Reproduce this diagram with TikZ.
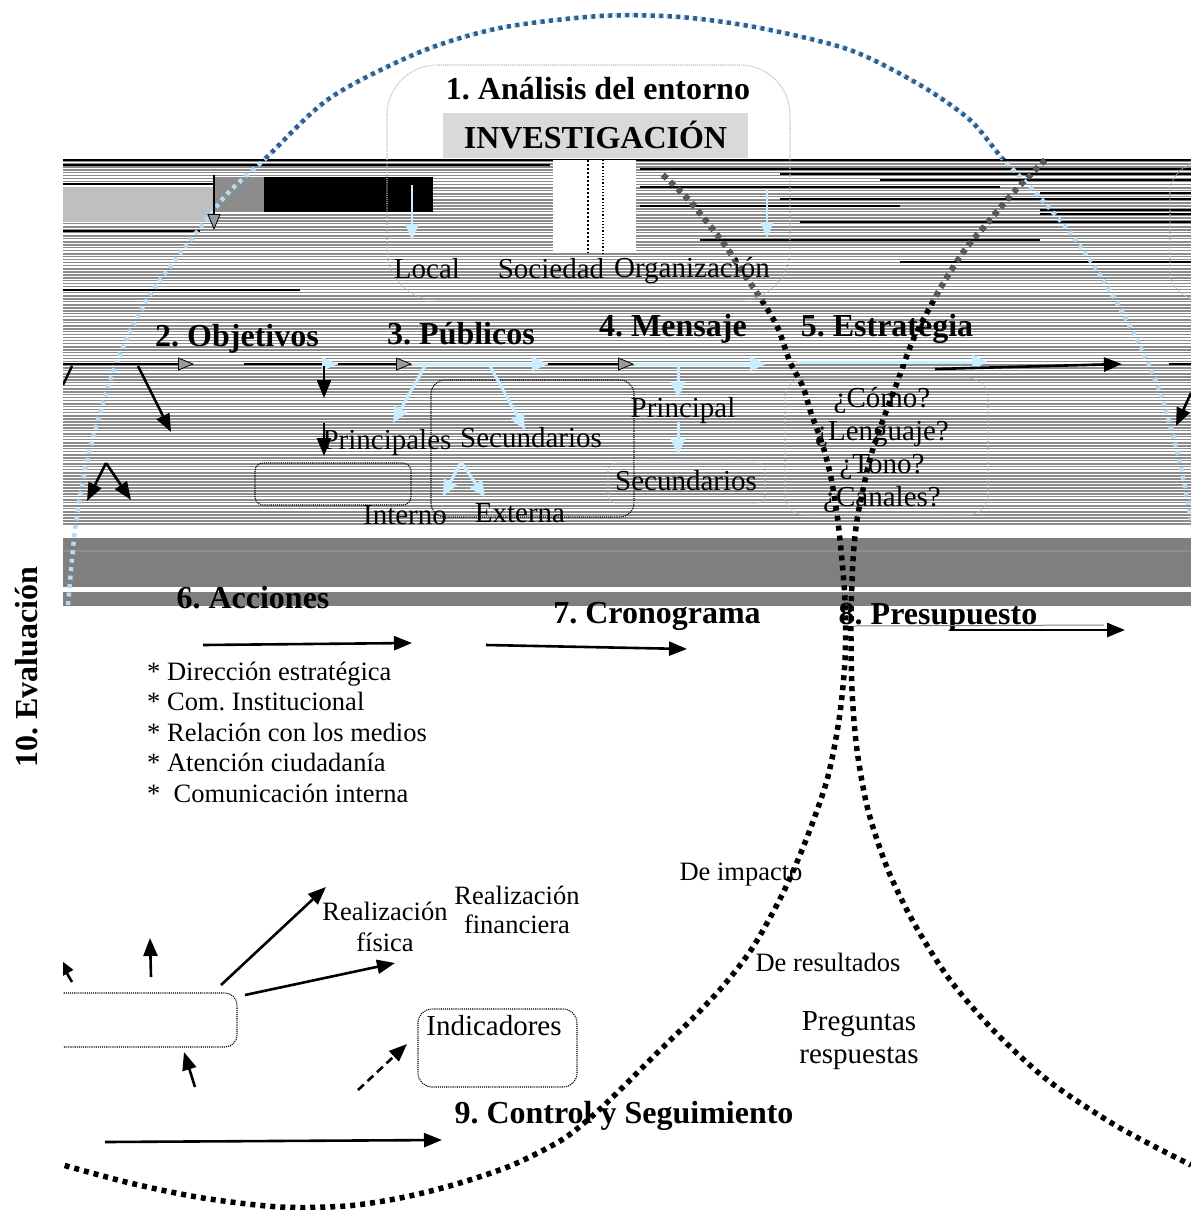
\documentclass[tikz,border=0pt]{standalone}
\usepackage{fontspec}
\setmainfont{Liberation Serif}
\usetikzlibrary{arrows.meta}
\frenchspacing

\begin{document}
\begin{tikzpicture}[x=1pt, y=-1pt,
    head/.style={inner sep=0pt, font=\bfseries\fontsize{32}{36}\selectfont},
    lbl/.style={inner sep=0pt, font=\fontsize{29}{33}\selectfont},
    note/.style={inner sep=0pt, align=center, font=\fontsize{26.5}{30.5}\selectfont},
    blackArrow/.style={line width=2.6pt, -{Triangle[length=18pt, width=14pt]}},
    lightArrow/.style={draw=skyArrow, line width=3pt, -{Triangle[length=16pt, width=14pt]}},
    grayTip/.style={line width=2.4pt, -{Triangle[length=16pt, width=13pt, fill=tipGray, line width=0.8pt]}},
    skyTip/.style={line width=2.4pt, -{Triangle[length=16pt, width=13pt, color=skyArrow]}},
    dotBox/.style={draw, line width=1.1pt, densely dotted, rounded corners=14pt},
    paleBox/.style={draw=paleLine, line width=1.1pt, densely dotted, rounded corners=14pt},
    blueDots/.style={line width=4.5pt, dash pattern=on 4pt off 4.5pt},
    blackDots/.style={line width=5.5pt, dash pattern=on 5pt off 5pt}]
    % Define colours
    \definecolor{outerBlue}{HTML}{2E5D8E}
    \definecolor{paleBlue}{HTML}{B4DCF5}
    \definecolor{skyArrow}{HTML}{C8EEFF}
    \definecolor{stripeGray}{HTML}{8C8C8C}
    \definecolor{bandGray}{HTML}{7F7F7F}
    \definecolor{lightBand}{HTML}{8E8E8E}
    \definecolor{boxGray}{HTML}{D9D9D9}
    \definecolor{tipGray}{HTML}{9A9A9A}
    \definecolor{paleLine}{HTML}{AFBDCD}
    \definecolor{lightBlock}{HTML}{BFBFBF}
    \definecolor{midBlock}{HTML}{8C8C8C}
    \definecolor{curveGray}{HTML}{5A5A5A}

    \useasboundingbox (0,0) rectangle (1191,1210);

    \begin{scope}
    \clip (63,0) rectangle (1191,1210);

    % Striped band behind the first rows
    \fill[stripeGray] (63,158) rectangle (1191,525);
    \pgfmathsetseed{7}
    \foreach \y in {159,162,...,524}{
        \pgfmathsetmacro{\lw}{0.3+1.4*rnd}
        \draw[white, line width=\lw pt] (63,\y) -- (1191,\y);
    }
    \foreach \y/\a/\b in {160/63/1191, 165/63/550, 169/640/1191, 174/780/1191,
        180/880/1191, 184/63/214, 187/640/1000, 193/1040/1191, 199/780/1191,
        206/640/900, 210/1040/1191, 214/1040/1191, 222/800/1191, 231/63/200,
        240/700/1040, 262/900/1191, 290/63/300}
        \draw[line width=1.4pt] (\a,\y) -- (\b,\y);
    \fill[lightBlock] (63,187) rectangle (214,222);
    \fill[midBlock] (214,177) rectangle (264,212);
    \fill (264,177) rectangle (433,212);
    \fill[white] (553,160) rectangle (636,253);
    \draw[dotted, line width=2pt] (588,160) -- (588,253);
    \draw[dotted, line width=1.2pt] (603,160) -- (603,253);

    % Solid band
    \fill[bandGray] (63,538) rectangle (1191,606);
    \draw[lightBand, line width=2.5pt] (63,551) -- (1191,551);
    \fill[white] (63,587) rectangle (1191,592);

    % Outer dotted curve
    \draw[paleBlue, blueDots] plot[smooth] coordinates {(68,605) (75,530) (85,470)
        (98,420) (112,375) (130,332) (150,295) (175,260) (200,228) (228,193)
        (267,157) (330,98) (420,52) (500,28) (600,16) (680,17) (760,28) (850,50)
        (920,85) (970,120) (1002,158) (1033,190) (1068,230) (1100,275) (1133,332)
        (1160,392) (1180,463) (1191,520)};
    \begin{scope}
    \clip (0,0) rectangle (1191,158);
    \draw[outerBlue, blueDots] plot[smooth] coordinates {(228,193) (267,157)
        (330,98) (420,52) (500,28) (600,16) (680,17) (760,28) (850,50) (920,85)
        (970,120) (1002,158) (1033,190)};
    \end{scope}

    % Two crossing dotted curves
    \draw[blackDots] plot[smooth] coordinates {(663,175) (687,198) (707,222)
        (727,248) (743,273) (757,293) (777,326) (790,362) (803,387) (811,413)
        (822,443) (830,473) (836,507) (840,540) (845,600) (845,660) (839,720)
        (827,780) (806,840) (783,893) (753,947) (724,985) (694,1017) (657,1053)
        (620,1090) (590,1118) (560,1141) (510,1166) (453,1185) (400,1198)
        (346,1206) (280,1207) (203,1198) (130,1183) (63,1165)};
    \draw[blackDots] plot[smooth] coordinates {(1045,160) (1013,193) (990,220)
        (967,247) (947,277) (930,307) (913,340) (898,380) (883,420) (871,455)
        (864,485) (857,520) (853,560) (851,620) (852,690) (857,750) (868,810)
        (888,870) (915,925) (950,980) (995,1032) (1050,1082) (1120,1128)
        (1191,1165)};
    \begin{scope}
    \clip (600,158) rectangle (1191,300);
    \draw[curveGray, blackDots] plot[smooth] coordinates {(663,175) (687,198)
        (707,222) (727,248) (743,273) (757,293) (777,326)};
    \draw[curveGray, blackDots] plot[smooth] coordinates {(1045,160) (1013,193)
        (990,220) (967,247) (947,277) (930,307) (913,340)};
    \end{scope}

    % Boxes
    \draw[paleBox, rounded corners=50pt] (387,65) rectangle (790,300);
    \draw[paleBox, rounded corners=30pt] (1170,163) rectangle (1320,300);
    \draw[dotBox] (431,380) rectangle (634,517);
    \draw[dotBox, rounded corners=8pt] (255,463) rectangle (411,505);
    \draw[paleBox, rounded corners=8pt] (608,463) rectangle (765,503);
    \draw[paleBox, rounded corners=20pt] (785,378) rectangle (988,515);
    \draw[dotBox, rounded corners=12pt] (40,993) rectangle (237,1047);
    \draw[dotBox] (418,1009) rectangle (577,1087);

    % 1. Analisis del entorno
    \node[head, anchor=base] (analisis) at (598,99) {1. Análisis del entorno};
    \node[head, fill=boxGray, minimum width=305pt, minimum height=45pt]
        (investigacion) at (595.5,135.5) {INVESTIGACIÓN};
    \node[lbl, anchor=base] (local) at (427,278) {Local};
    \node[lbl, anchor=base] (sociedad) at (551,278) {Sociedad};
    \node[lbl, anchor=base] (organizacion) at (692,277) {Organización};

    % Small arrows under the title
    \coordinate (inv1) at (214,175);
    \coordinate (inv2) at (214,230);
    \coordinate (inv3) at (412,185);
    \coordinate (inv4) at (412,240);
    \coordinate (inv5) at (767,190);
    \coordinate (inv6) at (767,238);
    \draw[grayTip] (inv1) -- (inv2);
    \draw[skyTip, draw=skyArrow] (inv3) -- (inv4);
    \draw[skyTip, draw=skyArrow] (inv5) -- (inv6);

    % 2. to 5. headers
    \node[head, anchor=base] (objetivos) at (237,346) {2. Objetivos};
    \node[head, anchor=base] (publicos) at (461,344) {3. Públicos};
    \node[head, anchor=base] (mensaje) at (673,336) {4. Mensaje};
    \node[head, anchor=base] (estrategia) at (887,336) {5. Estrategia};

    % Arrow row
    \coordinate (r0) at (63,364);
    \coordinate (r1) at (194,364);
    \coordinate (r2) at (244,364);
    \coordinate (r3) at (338,364);
    \coordinate (r4) at (412,364);
    \coordinate (r5) at (548,364);
    \coordinate (r6) at (634,364);
    \coordinate (r7) at (766,364);
    \coordinate (r8) at (796,362);
    \coordinate (r9) at (988,362);
    \coordinate (r10) at (935,369);
    \coordinate (r11) at (1122,364);
    \coordinate (r12) at (1169,364);
    \coordinate (r13) at (1191,364);
    \draw[grayTip] (r0) -- (r1);
    \draw[skyTip] (r2) -- (r3);
    \draw[grayTip] (r3) -- (r4);
    \draw[lightArrow] (r4) -- (r5);
    \draw[grayTip] (r5) -- (r6);
    \draw[lightArrow] (r6) -- (r7);
    \draw[lightArrow] (r8) -- (r9);
    \draw[blackArrow] (r10) -- (r11);
    \draw[line width=2.6pt] (r12) -- (r13);

    % Objetivos branches
    \coordinate (o1) at (72,366);
    \coordinate (o2) at (63,385);
    \coordinate (o3) at (138,366);
    \coordinate (o4) at (171,432);
    \coordinate (o5) at (106,463);
    \coordinate (o6) at (87,501);
    \coordinate (o7) at (131,500);
    \coordinate (o8) at (324,366);
    \coordinate (o9) at (324,398);
    \coordinate (o10) at (324,423);
    \coordinate (o11) at (324,456);
    \draw[line width=2.4pt] (o1) -- (o2);
    \draw[blackArrow] (o3) -- (o4);
    \draw[blackArrow] (o5) -- (o6);
    \draw[blackArrow] (o5) -- (o7);
    \draw[blackArrow] (o8) -- (o9);
    \draw[blackArrow] (o10) -- (o11);

    % Publicos
    \node[lbl, anchor=base] (principales) at (387,449) {Principales};
    \node[lbl, anchor=base] (secundarios) at (531,447) {Secundarios};
    \node[lbl, anchor=base] (interno) at (405,524) {Interno};
    \node[lbl, anchor=base] (externa) at (520,522) {Externa};
    \coordinate (p1) at (425,366);
    \coordinate (p2) at (393,423);
    \coordinate (p3) at (490,366);
    \coordinate (p4) at (525,430);
    \coordinate (p5) at (461,462);
    \coordinate (p6) at (443,496);
    \coordinate (p7) at (485,497);
    \draw[lightArrow] (p1) -- (p2);
    \draw[lightArrow] (p3) -- (p4);
    \draw[lightArrow] (p5) -- (p6);
    \draw[lightArrow] (p5) -- (p7);

    % Mensaje
    \node[lbl, anchor=base] (principal) at (683,417) {Principal};
    \node[lbl, anchor=base] (secMensaje) at (686,490) {Secundarios};
    \coordinate (m1) at (678,366);
    \coordinate (m2) at (678,398);
    \coordinate (m3) at (678,422);
    \coordinate (m4) at (678,455);
    \draw[lightArrow] (m1) -- (m2);
    \draw[lightArrow] (m3) -- (m4);

    % Estrategia
    \foreach \q [count=\i] in {¿Cómo?, ¿Lenguaje?, ¿Tono?, ¿Canales?}
        \node[lbl, anchor=base] (pregunta\i) at (882,374+33*\i) {\q};
    \coordinate (e1) at (1191,393);
    \coordinate (e2) at (1176,426);
    \draw[blackArrow] (e1) -- (e2);

    % 6. to 8.
    \node[head, anchor=base] (acciones) at (253,608) {6. Acciones};
    \node[head, anchor=base] (cronograma) at (657,623) {7. Cronograma};
    \node[head, anchor=base] (presupuesto) at (938,624) {8. Presupuesto};
    \foreach \i/\item in {1/{* Dirección estratégica}, 2/{* Com. Institucional},
        3/{* Relación con los medios}, 4/{* Atención ciudadanía},
        5/{*\ \ Comunicación interna}}
        \node[note, anchor=base west] (accion\i) at (147,649.5+30.5*\i) {\item};
    \coordinate (a1) at (203,645);
    \coordinate (a2) at (412,643);
    \coordinate (c1) at (486,645);
    \coordinate (c2) at (687,649);
    \coordinate (b1) at (950,630);
    \coordinate (b2) at (1125,630);
    \coordinate (u1) at (854,626);
    \coordinate (u2) at (1104,625);
    \draw[blackArrow] (a1) -- (a2);
    \draw[blackArrow] (c1) -- (c2);
    \draw[gray, line width=1pt] (u1) -- (u2);
    \draw[blackArrow] (b1) -- (b2);

    % 9. Control y Seguimiento
    \node[note, anchor=base] (impacto) at (741,880) {De impacto};
    \node[note, anchor=base] (resultados) at (828,971) {De resultados};
    \node[note, font=\fontsize{29}{33}\selectfont] (preguntas) at (859,1041) {Preguntas\\respuestas};
    \node[note, font=\fontsize{26.5}{31}\selectfont] (fisica) at (385,927) {Realización\\física};
    \node[note, font=\fontsize{26.5}{29}\selectfont] (financiera) at (517,910) {Realización\\financiera};
    \node[lbl, anchor=base] (indicadores) at (494,1035) {Indicadores};
    \node[head, anchor=base] (control) at (624,1123) {9. Control y Seguimiento};
    \coordinate (s1) at (221,985);
    \coordinate (s2) at (326,887);
    \coordinate (s3) at (245,995);
    \coordinate (s4) at (395,963);
    \coordinate (s5) at (151,977);
    \coordinate (s6) at (150,938);
    \coordinate (s7) at (195,1087);
    \coordinate (s8) at (184,1052);
    \coordinate (s9) at (72,982);
    \coordinate (s10) at (58,958);
    \coordinate (s11) at (358,1090);
    \coordinate (s12) at (407,1044);
    \coordinate (s13) at (105,1142);
    \coordinate (s14) at (442,1140);
    \draw[blackArrow] (s1) -- (s2);
    \draw[blackArrow] (s3) -- (s4);
    \draw[blackArrow] (s5) -- (s6);
    \draw[blackArrow] (s7) -- (s8);
    \draw[blackArrow] (s9) -- (s10);
    \draw[blackArrow, dash pattern=on 8pt off 5pt] (s11) -- (s12);
    \draw[blackArrow] (s13) -- (s14);
    \end{scope}

    % 10. Evaluacion
    \node[head, rotate=90] (evaluacion) at (27,667) {10. Evaluación};

\end{tikzpicture}
\end{document}
